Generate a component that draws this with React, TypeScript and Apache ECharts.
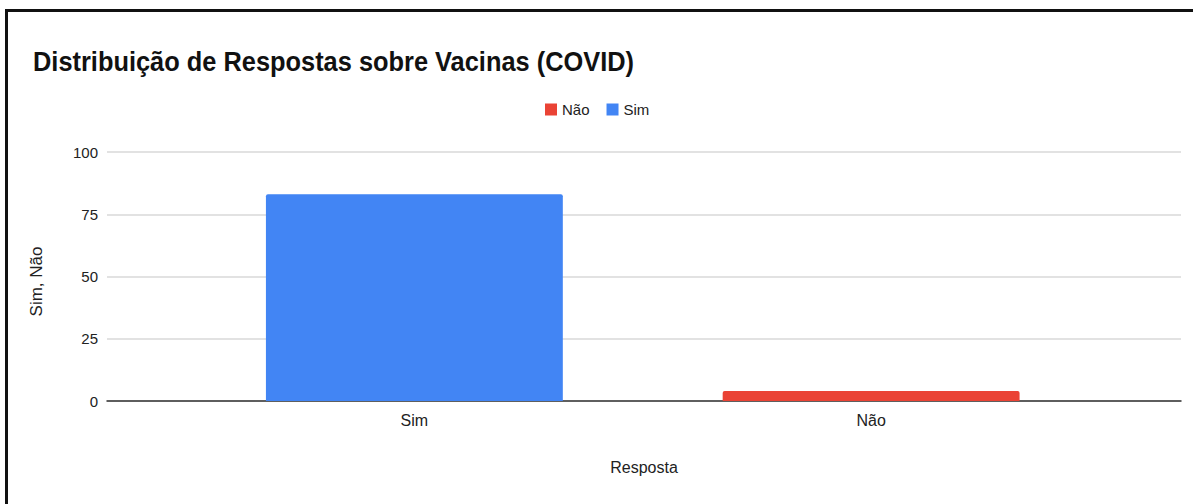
import React, { useEffect, useRef } from "react";
import * as echarts from "echarts";

const categories = ["Sim", "Não"];
const simValues: (number | string)[] = [83, "-"];
const naoValues: (number | string)[] = ["-", 4];
const yTicks = { min: 0, max: 100, interval: 25 };
const titleText = "Distribuição de Respostas sobre Vacinas (COVID)";
const xAxisName = "Resposta";
const yAxisName = "Sim, Não";

const FONT = "'Liberation Sans', Arial, Helvetica, sans-serif";

export default function App() {
  const ref = useRef<HTMLDivElement>(null);
  useEffect(() => {
    if (!ref.current) return;
    const chart = echarts.init(ref.current, null, { renderer: "svg" });
    chart.setOption({
      animation: false,
      backgroundColor: "#ffffff",
      textStyle: { fontFamily: FONT },
      legend: {
        data: ["Não", "Sim"],
        left: 540,
        top: 97,
        itemWidth: 12,
        itemHeight: 12,
        itemGap: 17,
        icon: "rect",
        textStyle: { fontSize: 15, color: "#222", fontFamily: FONT },
      },
      graphic: [
        {
          type: "line",
          shape: { x1: 6.5, y1: 10, x2: 6.5, y2: 504 },
          style: { stroke: "#111", lineWidth: 3 },
        },
        {
          type: "line",
          shape: { x1: 5, y1: 10.5, x2: 1193, y2: 10.5 },
          style: { stroke: "#111", lineWidth: 3 },
        },
        {
          type: "text",
          left: 33,
          top: 47,
          scaleY: 1.12,
          style: {
            text: titleText,
            fontSize: 25.4,
            fontWeight: "bold",
            fontFamily: FONT,
            fill: "#111",
          },
        },
      ],
      grid: [
        { left: 186, right: 93.5, top: 152, bottom: 103 },
        { left: 107, right: 12, top: 152, bottom: 103 },
      ],
      xAxis: [
        {
          type: "category",
          gridIndex: 0,
          data: categories,
          axisLine: { show: false },
          axisTick: { show: false },
          axisLabel: { fontSize: 16, color: "#222", margin: 11, fontFamily: FONT },
        },
        {
          type: "value",
          gridIndex: 1,
          min: 0,
          max: 1,
          axisLine: { show: true, lineStyle: { color: "#333", width: 1.5 } },
          axisTick: { show: false },
          axisLabel: { show: false },
          splitLine: { show: false },
          name: xAxisName,
          nameLocation: "middle",
          nameGap: 58,
          nameTextStyle: { fontSize: 16, color: "#222", fontFamily: FONT },
        },
      ],
      yAxis: [
        {
          type: "value",
          gridIndex: 0,
          min: yTicks.min,
          max: yTicks.max,
          interval: yTicks.interval,
          show: false,
          splitLine: { show: false },
        },
        {
          type: "value",
          gridIndex: 1,
          min: yTicks.min,
          max: yTicks.max,
          interval: yTicks.interval,
          axisLine: { show: false },
          axisTick: { show: false },
          axisLabel: { fontSize: 15, color: "#222", margin: 9, fontFamily: FONT },
          splitLine: { show: true, lineStyle: { color: "#d9d9d9", width: 1.5 } },
          name: yAxisName,
          nameLocation: "middle",
          nameRotate: 90,
          nameGap: 62,
          nameTextStyle: { fontSize: 17, color: "#222", fontFamily: FONT, padding: [0, 10, 0, 0] },
        },
      ],
      series: [
        {
          name: "Sim",
          type: "bar",
          xAxisIndex: 0,
          yAxisIndex: 0,
          stack: "total",
          data: simValues,
          barWidth: "65%",
          itemStyle: { color: "#4285F4", borderRadius: [2, 2, 0, 0] },
        },
        {
          name: "Não",
          type: "bar",
          xAxisIndex: 0,
          yAxisIndex: 0,
          stack: "total",
          data: naoValues,
          barWidth: "65%",
          itemStyle: { color: "#EA4335", borderRadius: [2, 2, 0, 0] },
        },
      ],
    });
    return () => chart.dispose();
  }, []);
  return (
    <div
      ref={ref}
      style={{ position: "fixed", left: 0, top: 0, width: 1193, height: 504 }}
    />
  );
}
